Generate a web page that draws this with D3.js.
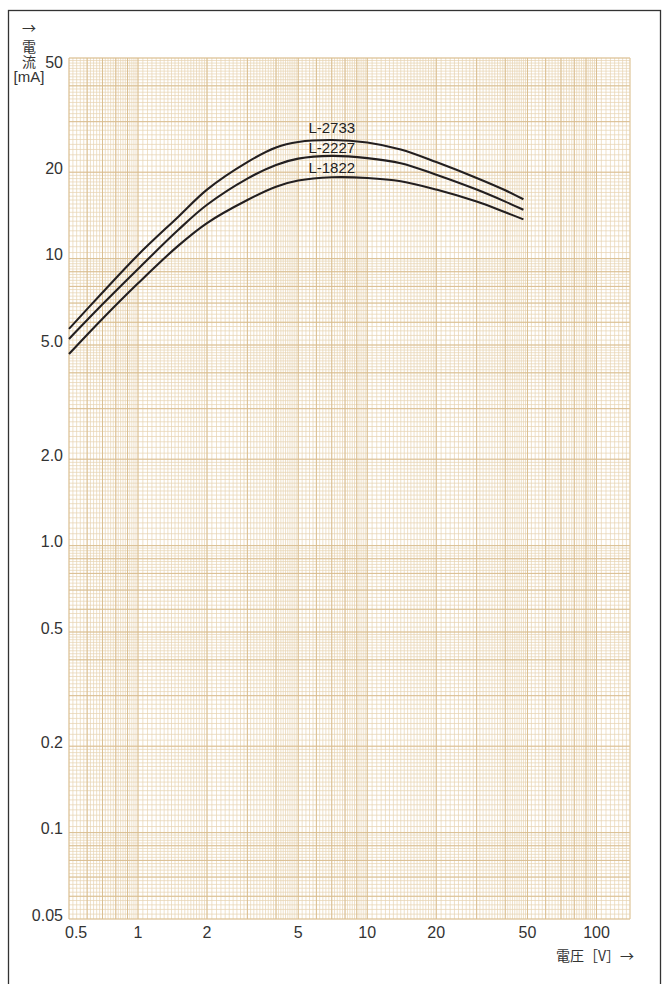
<!DOCTYPE html>
<html>
<head>
<meta charset="utf-8">
<script src="https://d3js.org/d3.v7.min.js"></script>
<style>
  body { margin: 0; background: #fff; }
  svg { display: block; }
  .tick-label { font-family: "Liberation Sans", Arial, sans-serif; font-size: 16px; fill: #333; }
  .curve-label { font-family: "Liberation Sans", Arial, sans-serif; font-size: 15px; fill: #222; }
  .title { font-family: "Noto Sans CJK JP", "Liberation Sans", sans-serif; font-size: 14px; fill: #333; }
</style>
</head>
<body>
<div id="chart"></div>
<script>
// voltage [V] and current [mA]
var voltage = [0.5, 0.7, 1, 1.5, 2, 3, 4, 5, 7, 10, 14, 20, 30, 40, 48];
var curL2733 = [5.69, 7.62, 10.3, 14.0, 17.4, 21.7, 24.4, 25.5, 25.9, 25.4, 24.0, 21.7, 19.1, 17.3, 16.1];
var curL2227 = [5.25, 6.93, 9.2, 12.6, 15.4, 19.0, 21.2, 22.3, 22.8, 22.4, 21.5, 19.6, 17.4, 15.8, 14.8];
var curL1822 = [4.65, 6.17, 8.2, 11.1, 13.3, 16.0, 17.8, 18.7, 19.2, 19.1, 18.6, 17.4, 15.8, 14.5, 13.7];
var seriesNames = ["L-2733", "L-2227", "L-1822"];
// where the series names sit (voltage, current)
var labelVoltage = 7;
var labelCurrent = [27.4, 23.3, 19.9];

var xTicks = [0.5, 1, 2, 5, 10, 20, 50, 100];
var xTickLabels = ["0.5", "1", "2", "5", "10", "20", "50", "100"];
var yTicks = [0.05, 0.1, 0.2, 0.5, 1, 2, 5, 10, 20, 50];
var yTickLabels = ["0.05", "0.1", "0.2", "0.5", "1.0", "2.0", "5.0", "10", "20", "50"];

var W = 669, H = 984;
var svg = d3.select("#chart").append("svg")
  .attr("width", W).attr("height", H);

// outer frame
svg.append("rect")
  .attr("x", 8.5).attr("y", 10.5)
  .attr("width", 652).attr("height", 990)
  .attr("fill", "none").attr("stroke", "#333").attr("stroke-width", 1.3);

var x = d3.scaleLog().domain([0.5, 140]).range([69, 630]);
var y = d3.scaleLog().domain([0.05, 50]).range([919, 58]);

// log paper grid
function gridValues(lo, hi, steps) {
  var out = [];
  for (var e = -3; e <= 3; e++) {
    var b = Math.pow(10, e);
    steps.forEach(function(s) {
      var n = Math.round((s[1] - s[0]) / s[2]);
      for (var i = 0; i < n; i++) {
        var v = (s[0] + i * s[2]) * b;
        if (v >= lo * 0.9999 && v <= hi * 1.0001) out.push(v);
      }
    });
  }
  return out;
}
var midSteps = [[1, 2, 0.05], [2, 5, 0.1], [5, 10, 0.2]];
var majSteps = [[1, 10, 1]];

var grid = svg.append("g");
function drawGrid(steps, color, width) {
  var xv = gridValues(0.5, 140, steps);
  var yv = gridValues(0.05, 50, steps);
  grid.append("g").selectAll("line").data(xv).enter().append("line")
    .attr("x1", d => x(d)).attr("x2", d => x(d))
    .attr("y1", y(50)).attr("y2", y(0.05))
    .attr("stroke", color).attr("stroke-width", width);
  grid.append("g").selectAll("line").data(yv).enter().append("line")
    .attr("y1", d => y(d)).attr("y2", d => y(d))
    .attr("x1", x(0.5)).attr("x2", x(140))
    .attr("stroke", color).attr("stroke-width", width);
}
drawGrid(midSteps, "#e6d2b0", 0.7);
drawGrid(majSteps, "#d8bb8c", 0.9);
// edges
grid.append("line").attr("x1", x(140)).attr("x2", x(140)).attr("y1", y(50)).attr("y2", y(0.05))
  .attr("stroke", "#e0c8a0").attr("stroke-width", 1);

// axis labels
svg.append("g").selectAll("text").data(yTicks).enter().append("text")
  .attr("class", "tick-label")
  .attr("x", 63).attr("y", (d, i) => i == yTicks.length - 1 ? y(d) + 10 : y(d) + 1.5)
  .attr("text-anchor", "end")
  .text((d, i) => yTickLabels[i]);

svg.append("g").selectAll("text").data(xTicks).enter().append("text")
  .attr("class", "tick-label")
  .attr("x", (d, i) => i == 0 ? x(d) - 4 : x(d))
  .attr("y", 938)
  .attr("text-anchor", (d, i) => i == 0 ? "start" : "middle")
  .text((d, i) => xTickLabels[i]);

// curves
var allSeries = [curL2733, curL2227, curL1822];
var line = d3.line()
  .x((d, i) => x(voltage[i]))
  .y(d => y(d))
  .curve(d3.curveCatmullRom.alpha(0.5));

svg.append("g").selectAll("path").data(allSeries).enter().append("path")
  .attr("d", d => line(d))
  .attr("fill", "none")
  .attr("stroke", "#231f20")
  .attr("stroke-width", 2.1);

// series labels
svg.append("g").selectAll("text").data(labelCurrent).enter().append("text")
  .attr("class", "curve-label")
  .attr("x", x(labelVoltage))
  .attr("y", d => y(d))
  .attr("text-anchor", "middle")
  .text((d, i) => seriesNames[i]);

// axis titles
var yt = svg.append("g").attr("class", "title");
yt.append("text").attr("x", 29).attr("y", 33).attr("text-anchor", "middle").text("→");
yt.append("text").attr("x", 29).attr("y", 52).attr("text-anchor", "middle").text("電");
yt.append("text").attr("x", 29).attr("y", 67).attr("text-anchor", "middle").text("流");
yt.append("text").attr("x", 29).attr("y", 82).attr("text-anchor", "middle")
  .style("font-family", "'Liberation Sans', Arial, sans-serif").style("font-size", "15px").text("[mA]");

svg.append("text").attr("class", "title")
  .attr("x", 634).attr("y", 961).attr("text-anchor", "end")
  .text("電圧［V］→");
</script>
</body>
</html>
